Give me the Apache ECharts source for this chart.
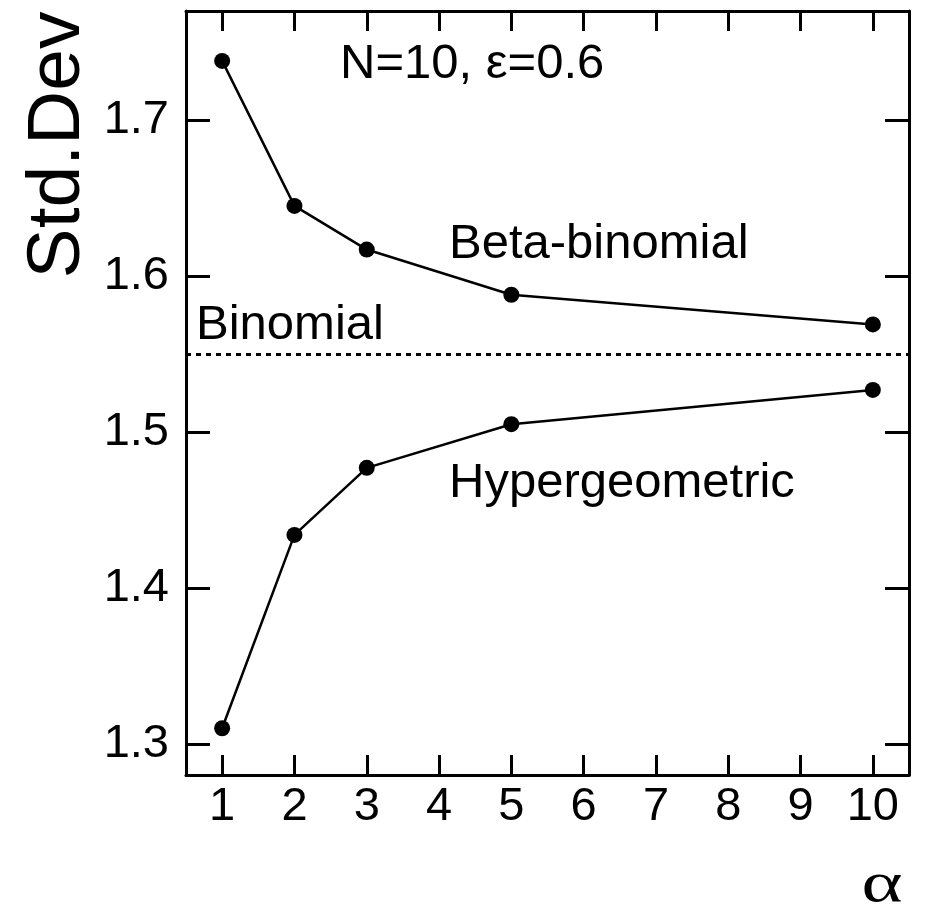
<!DOCTYPE html>
<html>
<head>
<meta charset="utf-8">
<script src="https://cdn.jsdelivr.net/npm/echarts@6/dist/echarts.min.js"></script>
<style>
html,body{margin:0;padding:0;background:#fff;}
#chart{width:935px;height:915px;}
</style>
</head>
<body>
<div id="chart"></div>
<script>
const alphaValues = [1, 2, 3, 5, 10];
const betaBinomial = [1.738, 1.645, 1.617, 1.588, 1.569];
const hypergeometric = [1.310, 1.434, 1.477, 1.505, 1.527];
const binomialValue = 1.549;
const xTicks = [1, 2, 3, 4, 5, 6, 7, 8, 9, 10];
const yTicks = [1.3, 1.4, 1.5, 1.6, 1.7];

const FONT = '"Liberation Sans", Arial, Helvetica, sans-serif';
const chart = echarts.init(document.getElementById('chart'), null, {renderer: 'canvas'});

function pairs(xs, ys) { return xs.map((x, i) => [x, ys[i]]); }

const axisLine = {show: true, lineStyle: {color: '#000', width: 3}};
const option = {
  animation: false,
  backgroundColor: '#fff',
  grid: {left: 186, right: 26, top: 11, bottom: 140, containLabel: false},
  xAxis: [
    {
      type: 'value', position: 'bottom', min: 0.5, max: 10.5,
      axisLine: axisLine,
      axisTick: {show: true, inside: true, length: 20, customValues: xTicks, lineStyle: {color: '#000', width: 3}},
      axisLabel: {show: true, customValues: xTicks, margin: 9, color: '#000', fontSize: 47, fontFamily: FONT},
      splitLine: {show: false}
    },
    {
      type: 'value', position: 'top', min: 0.5, max: 10.5,
      axisLine: axisLine,
      axisTick: {show: true, inside: true, length: 20, customValues: xTicks, lineStyle: {color: '#000', width: 3}},
      axisLabel: {show: false},
      splitLine: {show: false}
    }
  ],
  yAxis: [
    {
      type: 'value', position: 'left', min: 1.28, max: 1.77,
      axisLine: axisLine,
      axisTick: {show: true, inside: true, length: 24, customValues: yTicks, lineStyle: {color: '#000', width: 3}},
      axisLabel: {show: true, customValues: yTicks, margin: 17, color: '#000', fontSize: 47, fontFamily: FONT,
        formatter: v => v.toFixed(1)},
      splitLine: {show: false}
    },
    {
      type: 'value', position: 'right', min: 1.28, max: 1.77,
      axisLine: axisLine,
      axisTick: {show: true, inside: true, length: 24, customValues: yTicks, lineStyle: {color: '#000', width: 3}},
      axisLabel: {show: false},
      splitLine: {show: false}
    }
  ],
  series: [
    {
      name: 'Beta-binomial', type: 'line', xAxisIndex: 0, yAxisIndex: 0,
      data: pairs(alphaValues, betaBinomial),
      symbol: 'circle', symbolSize: 16,
      itemStyle: {color: '#000'},
      lineStyle: {color: '#000', width: 2.5},
      markLine: {
        silent: true, symbol: ['none', 'none'],
        label: {show: false},
        lineStyle: {color: '#000', width: 3, type: [5, 5]},
        data: [{yAxis: binomialValue}]
      }
    },
    {
      name: 'Hypergeometric', type: 'line', xAxisIndex: 0, yAxisIndex: 0,
      data: pairs(alphaValues, hypergeometric),
      symbol: 'circle', symbolSize: 16,
      itemStyle: {color: '#000'},
      lineStyle: {color: '#000', width: 2.5}
    }
  ],
  graphic: [
    {type: 'text', left: 340, top: 40, style: {text: 'N=10, ε=0.6', fill: '#000', font: '49px ' + FONT}},
    {type: 'text', left: 449, top: 220, style: {text: 'Beta-binomial', fill: '#000', font: '49px ' + FONT}},
    {type: 'text', left: 196, top: 301, style: {text: 'Binomial', fill: '#000', font: '49px ' + FONT}},
    {type: 'text', left: 449, top: 459, style: {text: 'Hypergeometric', fill: '#000', font: '49px ' + FONT}},
    {type: 'text', x: 58, y: 145, rotation: Math.PI / 2, style: {text: 'Std.Dev', fill: '#000', font: '75px ' + FONT, align: 'center', verticalAlign: 'middle'}},
    {type: 'text', x: 882, y: 886, scaleX: 1.35, style: {text: 'α', fill: '#000', font: '58px "Liberation Serif", "DejaVu Serif", serif', align: 'center', verticalAlign: 'middle'}}
  ]
};
chart.setOption(option);
</script>
</body>
</html>
